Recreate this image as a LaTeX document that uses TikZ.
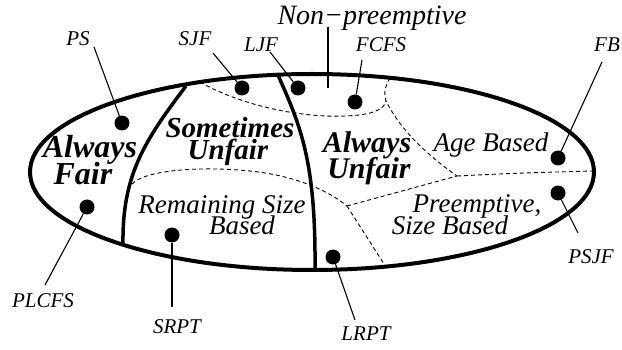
\documentclass[tikz,border=0pt]{standalone}
\usepackage{fontspec}
\setmainfont{Liberation Serif}
\begin{document}
\begin{tikzpicture}[x=1pt,y=-1pt,
  dot/.style={circle,fill=black,inner sep=0pt,minimum size=15pt},
  conn/.style={line width=1.1pt},
  rim/.style={line width=4pt},
  divider/.style={line width=3.5pt},
  boundary/.style={line width=0.9pt,dash pattern=on 4pt off 3pt},
  small/.style={font=\fontsize{21}{21}\selectfont\itshape,inner sep=0pt,anchor=base},
  region/.style={font=\fontsize{27}{27}\selectfont\itshape,inner sep=0pt,anchor=base},
  class/.style={font=\fontsize{30}{30}\selectfont\bfseries\itshape,inner sep=0pt,anchor=base}]
\useasboundingbox (0,0) rectangle (622,350);
\fill[white] (0,0) rectangle (622,350);

% junctions of the dashed boundaries
\coordinate (J1) at (347,206);
\coordinate (J2) at (457,176);
\coordinate (J3) at (386,101);

% dashed boundaries
\draw[boundary] (200,82) .. controls (240,105) and (300,118) .. (345,116)
                .. controls (372,115) and (384,110) .. (J3);
\draw[boundary] (390,78) .. controls (384,88) and (384,95) .. (J3)
                .. controls (398,125) and (420,150) .. (J2);
\draw[boundary] (J2) .. controls (520,173) .. (592,171);
\draw[boundary] (J1) -- (J2);
\draw[boundary] (J1) -- (384,264);
\draw[boundary] (132,184) .. controls (145,170) and (200,166) .. (250,171)
                .. controls (290,175) and (325,188) .. (J1);

% thick dividers
\draw[divider] (186,86) .. controls (145,140) and (122,175) .. (123,244);
\draw[divider] (278,75) .. controls (300,125) and (316,160) .. (315,270);

% outer ellipse
\draw[rim] (312,172) ellipse [x radius=282, y radius=98];

% policy dots
\node[dot] (PSd) at (122,123) {};
\node[dot] (SJFd) at (242,88) {};
\node[dot] (LJFd) at (298,88) {};
\node[dot] (FCFSd) at (355,102) {};
\node[dot] (FBd) at (558,158) {};
\node[dot] (PSJFd) at (558,193) {};
\node[dot] (LRPTd) at (333,257) {};
\node[dot] (SRPTd) at (172,235) {};
\node[dot] (PLCFSd) at (87,207) {};

% policy labels
\node[small] (PSl) at (78,46) {PS};
\node[small] (SJFl) at (195,46) {SJF};
\node[small] (LJFl) at (261,52) {LJF};
\node[small] (FCFSl) at (381,52) {FCFS};
\node[small] (FBl) at (607,52) {FB};
\node[small] (PSJFl) at (591,264) {PSJF};
\node[small] (LRPTl) at (366,341) {LRPT};
\node[small] (SRPTl) at (177,334) {SRPT};
\node[small] (PLCFSl) at (43,307) {PLCFS};

% connector ends near the labels
\coordinate (PSe) at (94,47);
\coordinate (SJFe) at (213,53);
\coordinate (LJFe) at (270,52);
\coordinate (FCFSe) at (362,60);
\coordinate (FBe) at (602,62);
\coordinate (PSJFe) at (578,233);
\coordinate (LRPTe) at (355,320);
\coordinate (SRPTe) at (172,307);
\coordinate (PLCFSe) at (45,285);
\coordinate (NPe) at (328,27);
\coordinate (NPf) at (328,88);

\draw[conn] (PSe) -- (PSd);
\draw[conn] (SJFe) -- (SJFd);
\draw[conn] (LJFe) -- (LJFd);
\draw[conn] (FCFSe) -- (FCFSd);
\draw[conn] (FBe) -- (FBd);
\draw[conn] (PSJFe) -- (PSJFd);
\draw[conn] (LRPTe) -- (LRPTd);
\draw[conn] (SRPTe) -- (SRPTd);
\draw[conn] (PLCFSe) -- (PLCFSd);
\draw[conn] (NPe) -- (NPf);

% region labels
\node[region,font=\fontsize{28}{28}\selectfont\itshape] (np) at (372,25) {Non−preemptive};
\node[region] (age) at (491,152) {Age Based};
\node[region] (rem1) at (222,214) {Remaining Size};
\node[region] (rem2) at (242,235) {Based};
\node[region] (pre1) at (477,213) {Preemptive,};
\node[region] (pre2) at (450,235) {Size Based};

% fairness classes
\node[class,font=\fontsize{32}{32}\selectfont\bfseries\itshape] (af1) at (90,158) {Always};
\node[class,font=\fontsize{32}{32}\selectfont\bfseries\itshape] (af2) at (83,185) {Fair};
\node[class,font=\fontsize{29}{29}\selectfont\bfseries\itshape] (su1) at (230,138) {Sometimes};
\node[class,font=\fontsize{29}{29}\selectfont\bfseries\itshape] (su2) at (228,160) {Unfair};
\node[class] (au1) at (367,153) {Always};
\node[class] (au2) at (369,179) {Unfair};
\end{tikzpicture}
\end{document}
